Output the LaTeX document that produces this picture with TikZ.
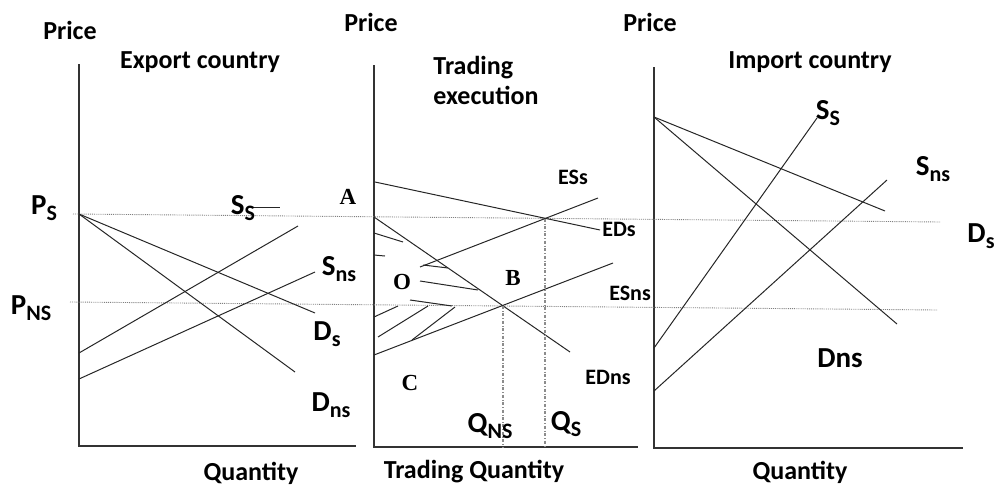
\documentclass[tikz,border=0pt]{standalone}
\usepackage{fontspec}
\setmainfont{Carlito}
\newfontfamily\ptserif{Liberation Serif}
\usetikzlibrary{positioning}
\newcommand{\lsub}[1]{\raisebox{-0.45ex}{\fontsize{22}{22}\selectfont #1}}

\begin{document}
\begin{tikzpicture}[
    x=1pt, y=-1pt,
    font=\fontsize{26}{30}\selectfont\bfseries,
    axis/.style={line width=1.2pt, black!80},
    curve/.style={line width=1pt, black!85},
    level/.style={densely dotted, line width=0.9pt, black!50},
    qline/.style={dash dot, line width=1.1pt, black!45},
    lbl/.style={inner sep=0pt},
    curvelbl/.style={inner sep=0pt, font=\fontsize{29}{32}\selectfont\bfseries},
    exlbl/.style={inner sep=0pt, font=\fontsize{22}{25}\selectfont\bfseries},
    ptlbl/.style={inner sep=0pt, font=\fontsize{23}{26}\ptserif\bfseries}
]
\useasboundingbox (0,0) rectangle (1000,487);

% -- axes
\draw[axis] (79,64) |- (356,446);
\draw[axis] (374,65) |- (638,447);
\draw[axis] (654,67) |- (963,448);

% -- price levels
\coordinate (psL) at (73,214);
\coordinate (psR) at (940,222);
\coordinate (pnsL) at (70,302);
\coordinate (pnsR) at (937,310);
\draw[level] (psL) -- (psR);
\draw[level] (pnsL) -- (pnsR);

% -- export country
\coordinate (exTop) at (79,214);
\draw[curve] (exTop) -- (315,313);
\draw[curve] (exTop) -- (295,372);
\draw[curve] (79,353) -- (298,226);
\draw[curve] (79,379) -- (315,272);
\draw[curve] (253,207) -- (280,207);

% -- trading execution
\coordinate (eqs) at (545,218.5);
\coordinate (eqns) at (503,306);
\draw[curve] (375,182) -- (600,230);
\draw[curve] (420,267) -- (598,198);
\draw[curve] (374,217) -- (570,352);
\draw[curve] (374,355) -- (613,263);
\draw[curve] (374,233) -- (403,242);
\draw[curve] (374,255) -- (385,256);
\draw[curve] (423,265) -- (448,268);
\draw[curve] (420,281) -- (478,290);
\draw[curve] (410,300) -- (452,306);
\draw[curve] (374,317) -- (398,306);
\draw[curve] (378,337) -- (428,306);
\draw[curve] (412,340) -- (455,307);
\draw[qline] (eqns) -- (eqns |- 0,447);
\draw[qline] (eqs) -- (eqs |- 0,447);

% -- import country
\coordinate (imTop) at (654,117);
\draw[curve] (imTop) -- (885,211);
\draw[curve] (imTop) -- (897,324);
\draw[curve] (654,348) -- (817,118);
\draw[curve] (654,391) -- (887,180);

% -- axis titles
\node[lbl] (price1) at (70,30) {Price};
\node[lbl] (price2) at (371,22) {Price};
\node[lbl] (price3) at (650,22) {Price};
\node[lbl] (exTitle) at (200,62) {Export country};
\node[lbl, align=left] (trTitle) at (486,80) {Trading\\execution};
\node[lbl] (imTitle) at (810,62) {Import country};
\node[lbl] (qty1) at (251,473) {Quantity};
\node[lbl] (qty2) at (474,472) {Trading Quantity};
\node[lbl] (qty3) at (800,472) {Quantity};

% -- export country labels
\node[curvelbl] (PS) at (44,208) {P\lsub{S}};
\node[curvelbl] (PNS) at (31,308) {P\lsub{NS}};
\node[curvelbl] (exSS) at (243,208) {S\lsub{S}};
\node[curvelbl] (exSns) at (339,269) {S\lsub{ns}};
\node[curvelbl] (exDs) at (327,334) {D\lsub{s}};
\node[curvelbl] (exDns) at (331,405) {D\lsub{ns}};

% -- trading execution labels
\node[ptlbl] (ptA) at (348,197) {A};
\node[ptlbl] (ptO) at (402,282) {O};
\node[ptlbl] (ptB) at (513,278) {B};
\node[ptlbl] (ptC) at (410,383) {C};
\node[exlbl] (ESs) at (573,177) {ESs};
\node[exlbl] (EDs) at (619,229) {EDs};
\node[exlbl] (ESns) at (630,293) {ESns};
\node[exlbl] (EDns) at (608,377) {EDns};
\node[curvelbl] (QNS) at (490,426) {Q\lsub{NS}};
\node[curvelbl] (QS) at (566,424) {Q\lsub{S}};

% -- import country labels
\node[curvelbl] (imSS) at (828,113) {S\lsub{S}};
\node[curvelbl] (imSns) at (933,169) {S\lsub{ns}};
\node[curvelbl] (imDs) at (981,236) {D\lsub{s}};
\node[curvelbl] (imDns) at (840,358) {Dns};

\end{tikzpicture}
\end{document}
